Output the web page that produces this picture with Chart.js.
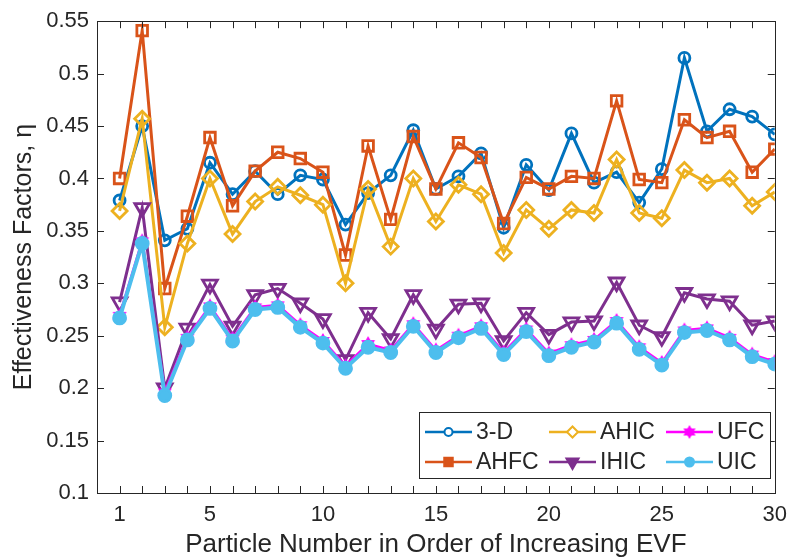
<!DOCTYPE html>
<html>
<head>
<meta charset="utf-8">
<script src="https://cdn.jsdelivr.net/npm/chart.js@4.4.1/dist/chart.umd.min.js"></script>
<style>
  body { margin: 0; background: #fff; }
  #wrap { width: 796px; height: 560px; }
</style>
</head>
<body>
<div id="wrap"><canvas id="evf" width="796" height="560"></canvas></div>
<script>
// particle numbers 1..30
const particles = [1,2,3,4,5,6,7,8,9,10,11,12,13,14,15,16,17,18,19,20,21,22,23,24,25,26,27,28,29,30];
const xTickLabels = [1, 5, 10, 15, 20, 25, 30];

// effectiveness factors
const val3D  = [0.379,0.450,0.341,0.352,0.415,0.385,0.407,0.385,0.403,0.399,0.356,0.386,0.403,0.446,0.390,0.402,0.424,0.353,0.413,0.389,0.443,0.396,0.406,0.377,0.409,0.515,0.445,0.466,0.459,0.442];
const valAHFC = [0.400,0.541,0.295,0.364,0.439,0.374,0.407,0.425,0.419,0.406,0.327,0.431,0.361,0.440,0.390,0.434,0.420,0.357,0.401,0.390,0.402,0.400,0.474,0.399,0.396,0.456,0.439,0.445,0.406,0.428];
const valAHIC = [0.369,0.457,0.258,0.338,0.400,0.347,0.378,0.392,0.384,0.375,0.300,0.390,0.335,0.400,0.359,0.394,0.385,0.329,0.370,0.352,0.370,0.367,0.418,0.367,0.362,0.408,0.396,0.400,0.374,0.387];
const valIHIC = [0.282,0.372,0.200,0.257,0.299,0.259,0.289,0.295,0.281,0.266,0.227,0.272,0.247,0.289,0.256,0.280,0.281,0.245,0.272,0.251,0.263,0.264,0.301,0.260,0.249,0.291,0.285,0.283,0.260,0.264];
const valUFC  = [0.269,0.340,0.196,0.248,0.278,0.247,0.277,0.279,0.260,0.245,0.221,0.242,0.236,0.261,0.236,0.250,0.259,0.234,0.256,0.233,0.241,0.246,0.264,0.239,0.224,0.255,0.257,0.248,0.232,0.225];
const valUIC  = [0.267,0.338,0.193,0.246,0.276,0.245,0.275,0.277,0.258,0.243,0.219,0.239,0.234,0.259,0.234,0.248,0.257,0.232,0.254,0.231,0.239,0.244,0.262,0.237,0.222,0.253,0.255,0.246,0.230,0.223];

const FONT = "'Liberation Sans', Arial, sans-serif";
const INK = '#262626';

function pts(vals) {
    return vals.map((v, i) => ({ x: particles[i], y: v }));
}

// filled hexagram marker for UFC
function hexagram(R, color) {
    const c = document.createElement('canvas');
    const s = Math.ceil(R * 2 + 2);
    c.width = s; c.height = s;
    const g = c.getContext('2d');
    const r = R / Math.sqrt(3);
    g.beginPath();
    for (let k = 0; k < 12; k++) {
        const a = -Math.PI / 2 + k * Math.PI / 6;
        const rr = k % 2 === 0 ? R : r;
        g.lineTo(s / 2 + rr * Math.cos(a), s / 2 + rr * Math.sin(a));
    }
    g.closePath();
    g.fillStyle = color;
    g.fill();
    return c;
}
const starBig = hexagram(8, '#FF00FF');
const starSmall = hexagram(7, '#FF00FF');

const series = [
    { label: '3-D',  data: pts(val3D),  color: '#0072BD', style: 'circle',   radius: 5.5, fill: false, width: 3, order: 5 },
    { label: 'AHFC', data: pts(valAHFC), color: '#D95319', style: 'rect',     radius: 7.5, fill: false, width: 3, order: 4 },
    { label: 'AHIC', data: pts(valAHIC), color: '#EDB120', style: 'rectRot',  radius: 7.5, fill: false, width: 3, order: 3 },
    { label: 'IHIC', data: pts(valIHIC), color: '#7E2F8E', style: 'triangle', radius: 8.5, fill: false, width: 3, order: 2, rotation: 180 },
    { label: 'UFC',  data: pts(valUFC),  color: '#FF00FF', style: starBig,    radius: 8,   fill: true,  width: 3, order: 1 },
    { label: 'UIC',  data: pts(valUIC),  color: '#4DBEEE', style: 'circle',   radius: 6,   fill: true,  width: 4, order: 0 }
];

const datasets = series.map(s => ({
    label: s.label,
    data: s.data,
    order: s.order,
    borderColor: s.color,
    borderWidth: s.width,
    backgroundColor: s.color,
    pointStyle: s.style,
    pointRadius: s.radius,
    pointRotation: s.rotation || 0,
    pointBorderColor: s.color,
    pointBorderWidth: 2.8,
    pointBackgroundColor: s.fill ? s.color : 'rgba(0,0,0,0)',
    tension: 0,
    fill: false
}));

// box, inward ticks and the legend, MATLAB style
const boxPlugin = {
    id: 'matlabBox',
    afterDraw(chart) {
        const ctx = chart.ctx;
        const a = chart.chartArea;
        const xs = chart.scales.x, ys = chart.scales.y;
        const tl = 7;
        ctx.save();
        ctx.strokeStyle = INK;
        ctx.lineWidth = 1;
        ctx.beginPath();
        for (let v = 1; v < 30; v++) {
            const px = Math.round(xs.getPixelForValue(v)) + 0.5;
            ctx.moveTo(px, a.bottom); ctx.lineTo(px, a.bottom - tl);
            ctx.moveTo(px, a.top); ctx.lineTo(px, a.top + tl);
        }
        ys.ticks.forEach(t => {
            const py = Math.round(ys.getPixelForValue(t.value)) + 0.5;
            ctx.moveTo(a.left, py); ctx.lineTo(a.left + tl, py);
            ctx.moveTo(a.right, py); ctx.lineTo(a.right - tl, py);
        });
        ctx.stroke();
        ctx.strokeRect(Math.round(a.left) + 0.5, Math.round(a.top) + 0.5, Math.round(a.right - a.left), Math.round(a.bottom - a.top));

        // legend: 3 columns, 2 rows, column-major
        const lx = 419.5, ly = 412.5, lw = 351, lh = 66;
        ctx.fillStyle = '#fff';
        ctx.fillRect(lx, ly, lw, lh);
        ctx.strokeStyle = INK;
        ctx.strokeRect(lx, ly, lw, lh);
        const cols = [425, 549, 666];
        const rows = [432, 462];
        const legendOrder = [0, 1, 2, 3, 4, 5];
        const legendMarks = {
            '3-D':  { style: 'circle', radius: 4, fill: false },
            'AHFC': { style: 'rect', radius: 6, fill: true },
            'AHIC': { style: 'rectRot', radius: 5.5, fill: false },
            'IHIC': { style: 'triangle', radius: 7, fill: true, rotation: 180 },
            'UFC':  { style: starSmall, radius: 7, fill: true },
            'UIC':  { style: 'circle', radius: 4.5, fill: true }
        };
        ctx.font = '23px ' + FONT;
        ctx.textBaseline = 'middle';
        legendOrder.forEach((idx, k) => {
            const s = series[idx];
            const cx = cols[Math.floor(k / 2)];
            const cy = rows[k % 2];
            ctx.strokeStyle = s.color;
            ctx.lineWidth = 2.5;
            ctx.beginPath();
            ctx.moveTo(cx, cy); ctx.lineTo(cx + 47, cy);
            ctx.stroke();
            const m = legendMarks[s.label];
            ctx.fillStyle = m.fill ? s.color : '#fff';
            ctx.lineWidth = 2;
            Chart.helpers.drawPoint(ctx, { pointStyle: m.style, radius: m.radius, rotation: m.rotation || 0, borderWidth: 2 }, cx + 23.5, cy);
            ctx.fillStyle = INK;
            ctx.fillText(s.label, cx + 51, cy + 1);
        });
        ctx.restore();
    }
};

new Chart(document.getElementById('evf').getContext('2d'), {
    type: 'line',
    data: { datasets: datasets },
    plugins: [boxPlugin],
    options: {
        responsive: false,
        animation: false,
        layout: { padding: { top: 20, right: 13, left: 0, bottom: 0 } },
        plugins: {
            legend: { display: false },
            tooltip: { enabled: false }
        },
        scales: {
            x: {
                type: 'linear',
                min: 0,
                max: 30,
                afterFit: s => { s.height = 67; },
                afterBuildTicks: s => { s.ticks = xTickLabels.map(v => ({ value: v })); },
                grid: { display: false, drawTicks: false },
                border: { display: false },
                ticks: {
                    autoSkip: false,
                    maxRotation: 0,
                    padding: 9,
                    color: INK,
                    font: { family: FONT, size: 22 },
                    callback: v => String(v)
                },
                title: {
                    display: true,
                    text: 'Particle Number in Order of Increasing EVF',
                    color: INK,
                    font: { family: FONT, size: 26 },
                    padding: { top: 0, bottom: 0 }
                }
            },
            y: {
                min: 0.1,
                max: 0.55,
                afterFit: s => { s.width = 97; },
                afterBuildTicks: s => {
                    const t = [];
                    for (let k = 0; k <= 9; k++) t.push({ value: Math.round((0.1 + k * 0.05) * 100) / 100 });
                    s.ticks = t;
                },
                grid: { display: false, drawTicks: false },
                border: { display: false },
                ticks: {
                    padding: 8,
                    color: INK,
                    font: { family: FONT, size: 22 },
                    callback: v => String(Number(v.toFixed(2)))
                },
                title: {
                    display: true,
                    text: 'Effectiveness Factors, η',
                    color: INK,
                    font: { family: FONT, size: 25 },
                    padding: { top: 9, bottom: 0 }
                }
            }
        }
    }
});
</script>
</body>
</html>
